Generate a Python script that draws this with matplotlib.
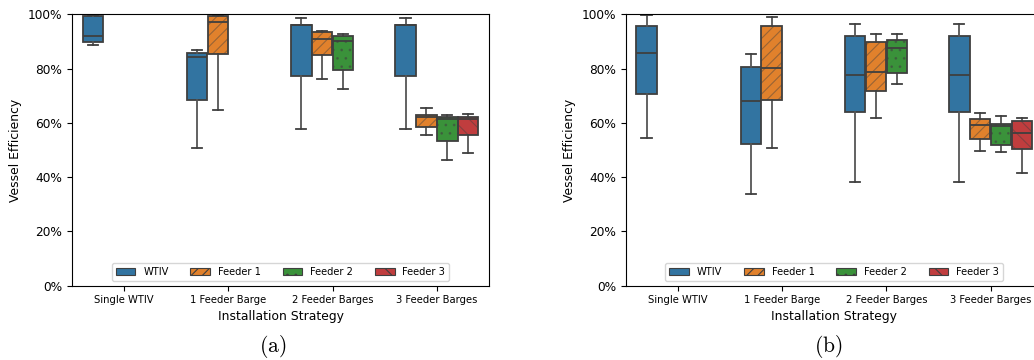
import matplotlib
matplotlib.use("Agg")
import matplotlib.pyplot as plt
from matplotlib.patches import Patch, PathPatch
from matplotlib.ticker import PercentFormatter

plt.rcParams['font.family'] = ['DejaVu Sans']
plt.rcParams['mathtext.fontset'] = 'cm'
plt.rcParams['hatch.linewidth'] = 0.8

# ---------------- data (percent) : (whislo, q1, median, q3, whishi) ----------------
strategies = ["Single WTIV", "1 Feeder Barge", "2 Feeder Barges", "3 Feeder Barges"]
vessels = ["WTIV", "Feeder 1", "Feeder 2", "Feeder 3"]

# Panel (a)
a_wtiv = [(88.8, 89.9, 92.0, 99.4, 99.8), (50.9, 68.3, 84.2, 85.8, 87.0),
          (57.9, 77.2, 96.0, 96.2, 98.7), (57.9, 77.2, 96.0, 96.2, 98.7)]
a_feeder1 = [None, (64.6, 85.3, 97.2, 99.3, 99.8),
             (76.2, 84.9, 90.9, 93.5, 94.0), (55.4, 58.4, 62.2, 62.9, 65.5)]
a_feeder2 = [None, None, (72.5, 79.6, 90.0, 92.1, 92.9), (46.3, 53.4, 61.5, 62.2, 62.9)]
a_feeder3 = [None, None, None, (48.8, 55.5, 61.3, 62.3, 63.3)]

# Panel (b)
b_wtiv = [(54.5, 70.8, 85.9, 95.8, 99.8), (33.8, 52.3, 68.1, 80.6, 85.5),
          (38.2, 63.9, 77.8, 92.0, 96.6), (38.2, 63.9, 77.8, 92.0, 96.6)]
b_feeder1 = [None, (50.9, 68.3, 80.1, 95.7, 99.0),
             (61.7, 71.7, 78.9, 89.8, 92.9), (49.5, 54.1, 59.1, 61.5, 63.8)]
b_feeder2 = [None, None, (74.4, 78.3, 87.5, 90.7, 92.9), (49.4, 51.7, 58.7, 59.7, 62.7)]
b_feeder3 = [None, None, None, (41.5, 50.5, 56.1, 60.6, 61.9)]

panels = [("(a)", [a_wtiv, a_feeder1, a_feeder2, a_feeder3]),
          ("(b)", [b_wtiv, b_feeder1, b_feeder2, b_feeder3])]

# ---------------- style ----------------
colors = ["#3274a1", "#e1812c", "#3a923a", "#c03d3e"]
hatches = [None, "///", "..", "\\\\"]
line_gray = "#3f3f3f"
hatch_col = (0.25, 0.25, 0.25, 0.45)

W, H = 1034, 360
fig = plt.figure(figsize=(W / 100, H / 100), dpi=100)

ax_left_px = [72, 625.7]
ax_w_px = 417
ax_top_px, ax_bot_px = 14.3, 285.7
caption_x_px = [273, 828]

n_h = len(vessels)
slot = 0.8 / n_h
box_w = slot * 0.98

for p, (cap, series) in enumerate(panels):
    ax = fig.add_axes([ax_left_px[p] / W, 1 - ax_bot_px / H,
                       ax_w_px / W, (ax_bot_px - ax_top_px) / H])
    for j, ser in enumerate(series):
        stats, pos = [], []
        for i, s in enumerate(ser):
            if s is None:
                continue
            lo, q1, med, q3, hi = s
            stats.append(dict(whislo=lo / 100, q1=q1 / 100, med=med / 100,
                              q3=q3 / 100, whishi=hi / 100, fliers=[]))
            pos.append(i + (j - (n_h - 1) / 2) * slot)
        art = ax.bxp(stats, positions=pos, widths=box_w, patch_artist=True,
                     showfliers=False, manage_ticks=False,
                     boxprops=dict(facecolor=colors[j], edgecolor=line_gray, linewidth=1.3),
                     medianprops=dict(color=line_gray, linewidth=1.3),
                     whiskerprops=dict(color="#555555", linewidth=1.3),
                     capprops=dict(color=line_gray, linewidth=1.3))
        if hatches[j]:
            for b in art["boxes"]:
                b.set_hatch(hatches[j])
                b.set_edgecolor(hatch_col)
                b.set_linewidth(0)
                outline = PathPatch(b.get_path(), transform=b.get_transform(),
                                    fill=False, edgecolor=line_gray, linewidth=1.3,
                                    zorder=b.get_zorder() + 0.1)
                ax.add_patch(outline)

    ax.set_xlim(-0.5, len(strategies) - 0.5)
    ax.set_ylim(0, 1)
    ax.set_xticks(range(len(strategies)))
    ax.set_xticklabels(strategies, fontsize=7.2)
    ax.yaxis.set_major_formatter(PercentFormatter(1.0, decimals=0))
    ax.tick_params(axis='y', labelsize=8.7, length=3.5)
    ax.tick_params(axis='x', length=3.5)
    ax.set_xlabel("Installation Strategy", fontsize=8.9, labelpad=3)
    ax.set_ylabel("Vessel Efficiency", fontsize=8.9)

    handles = []
    for j, v in enumerate(vessels):
        handles.append(Patch(facecolor=colors[j], edgecolor=line_gray,
                             hatch=hatches[j], linewidth=0.8, label=v))
    leg = ax.legend(handles=handles, loc="lower center", ncol=4, fontsize=7.1,
                    frameon=True, columnspacing=2.2, borderaxespad=0.5)

    fig.text(caption_x_px[p] / W, 1 - 347 / H, r"$\mathrm{" + cap + "}$",
             ha="center", va="center", fontsize=15.5)

fig.savefig("out.png", dpi=100)
